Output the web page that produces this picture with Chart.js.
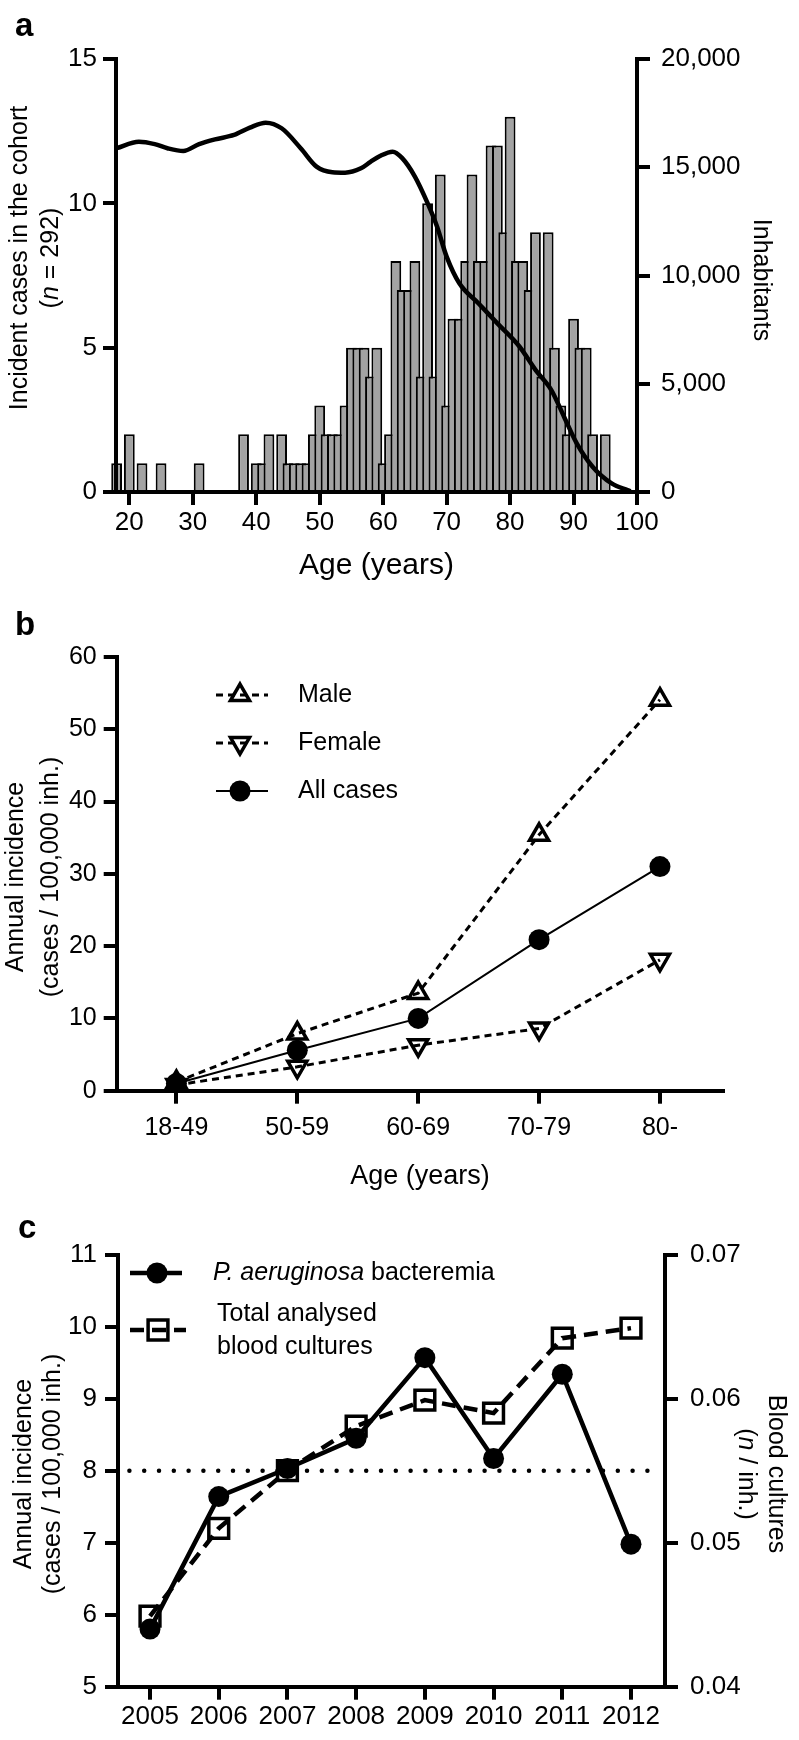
<!DOCTYPE html>
<html>
<head>
<meta charset="utf-8">
<script src="https://cdn.jsdelivr.net/npm/chart.js@4.4.1/dist/chart.umd.min.js"></script>
<style>
html,body{margin:0;padding:0;background:#fff;}
#page{position:relative;width:799px;height:1740px;overflow:hidden;background:#fff;}
canvas{position:absolute;left:0;}
</style>
</head>
<body>
<div id="page">
<canvas id="panelA" width="799" height="600" style="top:0"></canvas>
<canvas id="panelB" width="799" height="600" style="top:600px"></canvas>
<canvas id="panelC" width="799" height="540" style="top:1200px"></canvas>
</div>
<script>
// Panel a: incident cases per year of age (bars) + inhabitants by age (curve)
const CASE_AGES = [18,20,22,25,31,38,40,41,42,44,45,46,47,48,49,50,51,52,53,54,55,56,57,58,59,60,61,62,63,64,65,66,67,68,69,70,71,72,73,74,75,76,77,78,79,80,81,82,83,84,85,86,87,88,89,90,91,92,93,95];
const CASES     = [1,2,1,1,1,2,1,1,2,2,1,1,1,1,2,3,2,2,2,3,5,5,5,4,5,1,2,8,7,7,8,4,10,4,11,3,6,6,8,11,8,8,12,12,9,13,8,8,7,9,4,9,5,3,2,6,5,5,2,2];
const POP_AGES  = [18,21.5,24,26,28.5,31,33.5,36.5,39,41.5,44,47,49.5,52,54,56.5,58,59.5,61.5,63,65,67,68.5,70,72,75,78,81.5,84,86.5,88.5,90.5,93,96,98.5,99];
const POP       = [15880,16180,16070,15880,15750,16070,16290,16490,16830,17060,16800,15880,15030,14770,14750,14950,15250,15520,15720,15420,14570,13340,12250,10870,9640,8720,7790,6710,5640,4710,3480,2250,1170,400,90,40];
const AGE_TICKS = [20,30,40,50,60,70,80,90,100];
const CASE_TICKS = [0,5,10,15];
const POP_TICKS = [0,5000,10000,15000,20000];
const POP_LABELS = ['0','5,000','10,000','15,000','20,000'];

// Panel b: annual incidence by age group
const AGE_GROUPS = ['18-49','50-59','60-69','70-79','80-'];
const MALE   = [1.2, 7.9, 13.5, 35.4, 54.1];
const FEMALE = [0.8, 3.3, 6.3, 8.6, 18.1];
const ALL    = [1.0, 5.6, 10.0, 20.9, 31.0];
const INC_TICKS = [0,10,20,30,40,50,60];

// Panel c: yearly incidence + analysed blood cultures
const YEARS = [2005,2006,2007,2008,2009,2010,2011,2012];
const BACTEREMIA = [5.80, 7.64, 8.03, 8.45, 9.57, 8.17, 9.34, 6.98];
const CULTURES   = [0.0449, 0.0510, 0.0550, 0.0581, 0.0599, 0.0590, 0.0642, 0.0649];
const REF_LEVEL = 8;
const REF_SPAN = [2004.7, 2012.28];
const YC_TICKS = [5,6,7,8,9,10,11];
const BC_TICKS = [0.04,0.05,0.06,0.07];
const BC_LABELS = ['0.04','0.05','0.06','0.07'];

const FONT = '"Liberation Sans", Arial, Helvetica, sans-serif';
Chart.defaults.font.family = FONT;
Chart.defaults.color = '#000';

function ax(c) {
  return {
    type: 'linear', position: c.pos, min: c.min, max: c.max, offset: false,
    afterFit: s => { if (c.pos === 'bottom') s.height = c.thick; else s.width = c.thick; },
    afterBuildTicks: s => { s.ticks = c.values.map(v => ({value: v})); },
    grid: {display: true, offset: false, drawOnChartArea: false, drawTicks: true, tickLength: 13, tickWidth: 4, tickColor: '#000', color: '#000', lineWidth: 4},
    border: {display: true, color: '#000', width: 4, z: 1},
    ticks: {color: '#000', font: {family: FONT, size: c.size}, padding: c.pad, autoSkip: false, maxRotation: 0, minRotation: 0,
            callback: (v, i) => c.labels ? c.labels[i] : String(c.values[i])}
  };
}

function drawRich(ctx, t) {
  const size = t.size, bold = t.bold ? 'bold ' : '';
  const fontOf = it => (it ? 'italic ' : '') + bold + size + 'px ' + FONT;
  ctx.save();
  ctx.translate(t.x, t.y);
  ctx.rotate((t.rot || 0) * Math.PI / 180);
  ctx.textBaseline = t.base || 'middle';
  ctx.textAlign = 'left';
  ctx.fillStyle = '#000';
  let total = 0;
  t.parts.forEach(p => { ctx.font = fontOf(p[1]); total += ctx.measureText(p[0]).width; });
  let cx = t.align === 'left' ? 0 : (t.align === 'right' ? -total : -total / 2);
  t.parts.forEach(p => { ctx.font = fontOf(p[1]); ctx.fillText(p[0], cx, 0); cx += ctx.measureText(p[0]).width; });
  ctx.restore();
}

function textPlugin(items, legend) {
  return {
    id: 'panelText',
    afterDraw(chart) {
      const ctx = chart.ctx;
      (legend || []).forEach(it => {
        const ds = chart.data.datasets[it.ds];
        ctx.save();
        ctx.strokeStyle = ds.borderColor; ctx.lineWidth = ds.borderWidth;
        ctx.setLineDash(ds.borderDash || []);
        ctx.beginPath(); ctx.moveTo(it.x1, it.y); ctx.lineTo(it.x2, it.y); ctx.stroke();
        ctx.setLineDash([]);
        ctx.fillStyle = ds.pointBackgroundColor; ctx.strokeStyle = ds.pointBorderColor; ctx.lineWidth = ds.pointBorderWidth;
        Chart.helpers.drawPoint(ctx, {pointStyle: ds.pointStyle, rotation: ds.pointRotation || 0, radius: ds.pointRadius, borderWidth: ds.pointBorderWidth}, it.mx, it.y);
        ctx.restore();
      });
      items.forEach(t => drawRich(ctx, t));
    }
  };
}

const baseOpts = {responsive: false, animation: false, events: [],
  plugins: {legend: {display: false}, tooltip: {enabled: false}}};

// ---- panel a
new Chart(document.getElementById('panelA'), {
  type: 'bar',
  data: {datasets: [
    {type: 'line', data: POP_AGES.map((a, i) => ({x: a, y: POP[i]})), yAxisID: 'y2',
     borderColor: '#000', borderWidth: 4.5, pointRadius: 0, cubicInterpolationMode: 'monotone', fill: false},
    {type: 'bar', data: CASE_AGES.map((a, i) => ({x: a, y: CASES[i]})), yAxisID: 'y',
     backgroundColor: '#a3a3a3', borderColor: '#000', borderWidth: 2, borderSkipped: 'start',
     categoryPercentage: 1, barPercentage: 1.7, clip: false}
  ]},
  options: Object.assign({}, baseOpts, {
    layout: {padding: {top: 59, left: 0, right: 0, bottom: 0}},
    scales: {
      x: ax({pos: 'bottom', min: 17.9, max: 100, thick: 108, values: AGE_TICKS, size: 26, pad: 2}),
      y: ax({pos: 'left', min: 0, max: 15, thick: 116, values: CASE_TICKS, size: 26, pad: 6}),
      y2: ax({pos: 'right', min: 0, max: 20000, thick: 162, values: POP_TICKS, labels: POP_LABELS, size: 26, pad: 11})
    }
  }),
  plugins: [textPlugin([
    {x: 15, y: 36, parts: [['a', 0]], size: 33, bold: true, align: 'left', base: 'alphabetic'},
    {x: 20, y: 258, rot: -90, parts: [['Incident cases in the cohort', 0]], size: 25},
    {x: 51, y: 258, rot: -90, parts: [['(', 0], ['n', 1], [' = 292)', 0]], size: 25},
    {x: 761, y: 280, rot: 90, parts: [['Inhabitants', 0]], size: 25},
    {x: 376.5, y: 566, parts: [['Age (years)', 0]], size: 30}
  ])]
});

// ---- panel b
new Chart(document.getElementById('panelB'), {
  type: 'line',
  data: {datasets: [
    {label: 'Male', data: MALE.map((v, i) => ({x: i, y: v})), borderColor: '#000', borderWidth: 3, borderDash: [7, 5],
     pointStyle: 'triangle', pointRadius: 11, pointBorderWidth: 3.5, pointBackgroundColor: 'rgba(255,255,255,0)', pointBorderColor: '#000'},
    {label: 'Female', data: FEMALE.map((v, i) => ({x: i, y: v})), borderColor: '#000', borderWidth: 3, borderDash: [7, 5],
     pointStyle: 'triangle', pointRotation: 180, pointRadius: 11, pointBorderWidth: 3.5, pointBackgroundColor: 'rgba(255,255,255,0)', pointBorderColor: '#000'},
    {label: 'All cases', data: ALL.map((v, i) => ({x: i, y: v})), borderColor: '#000', borderWidth: 2,
     pointStyle: 'circle', pointRadius: 10.5, pointBorderWidth: 0, pointBackgroundColor: '#000', pointBorderColor: '#000'}
  ]},
  options: Object.assign({}, baseOpts, {
    layout: {padding: {top: 57, left: 0, right: 75.7, bottom: 0}},
    scales: {
      x: ax({pos: 'bottom', min: -0.494, max: 4.524, thick: 109.3, values: [0, 1, 2, 3, 4], labels: AGE_GROUPS, size: 25, pad: 9}),
      y: ax({pos: 'left', min: 0, max: 60, thick: 116.7, values: INC_TICKS, size: 25, pad: 7})
    }
  }),
  plugins: [textPlugin([
    {x: 15, y: 35, parts: [['b', 0]], size: 33, bold: true, align: 'left', base: 'alphabetic'},
    {x: 16, y: 277, rot: -90, parts: [['Annual incidence', 0]], size: 25},
    {x: 51, y: 277, rot: -90, parts: [['(cases / 100,000 inh.)', 0]], size: 25},
    {x: 420, y: 577, parts: [['Age (years)', 0]], size: 27},
    {x: 298, y: 95, parts: [['Male', 0]], size: 25, align: 'left'},
    {x: 298, y: 143, parts: [['Female', 0]], size: 25, align: 'left'},
    {x: 298, y: 191, parts: [['All cases', 0]], size: 25, align: 'left'}
  ], [
    {ds: 0, y: 95, x1: 216, x2: 268, mx: 240},
    {ds: 1, y: 143, x1: 216, x2: 268, mx: 240},
    {ds: 2, y: 191, x1: 216, x2: 268, mx: 240}
  ])]
});

// ---- panel c
new Chart(document.getElementById('panelC'), {
  type: 'line',
  data: {datasets: [
    {label: 'Total analysed blood cultures', data: CULTURES.map((v, i) => ({x: YEARS[i], y: v})), yAxisID: 'y2',
     borderColor: '#000', borderWidth: 4.5, borderDash: [14, 8],
     pointStyle: 'rect', pointRadius: 14, pointBorderWidth: 3.5, pointBackgroundColor: 'rgba(255,255,255,0)', pointBorderColor: '#000'},
    {label: 'P. aeruginosa bacteremia', data: BACTEREMIA.map((v, i) => ({x: YEARS[i], y: v})), yAxisID: 'y',
     borderColor: '#000', borderWidth: 4.5,
     pointStyle: 'circle', pointRadius: 10.5, pointBorderWidth: 0, pointBackgroundColor: '#000', pointBorderColor: '#000'},
    {label: 'reference', data: REF_SPAN.map(x => ({x: x, y: REF_LEVEL})), yAxisID: 'y',
     borderColor: '#000', borderWidth: 4.5, borderDash: [0, 14.8], borderCapStyle: 'round', pointRadius: 0}
  ]},
  options: Object.assign({}, baseOpts, {
    layout: {padding: {top: 54.7, left: 0, right: 0, bottom: 0}},
    scales: {
      x: ax({pos: 'bottom', min: 2004.534, max: 2012.495, thick: 53.3, values: YEARS, size: 26, pad: 2}),
      y: ax({pos: 'left', min: 5, max: 11, thick: 118, values: YC_TICKS, size: 26, pad: 8}),
      y2: ax({pos: 'right', min: 0.04, max: 0.07, thick: 134, values: BC_TICKS, labels: BC_LABELS, size: 26, pad: 12})
    }
  }),
  plugins: [textPlugin([
    {x: 18, y: 38, parts: [['c', 0]], size: 33, bold: true, align: 'left', base: 'alphabetic'},
    {x: 24, y: 274, rot: -90, parts: [['Annual incidence', 0]], size: 25},
    {x: 53, y: 274, rot: -90, parts: [['(cases / 100,000 inh.)', 0]], size: 25},
    {x: 776, y: 274, rot: 90, parts: [['Blood cultures', 0]], size: 25},
    {x: 746, y: 274, rot: 90, parts: [['(', 0], ['n', 1], [' / inh.)', 0]], size: 25},
    {x: 213, y: 73, parts: [['P. aeruginosa', 1], [' bacteremia', 0]], size: 25, align: 'left'},
    {x: 217, y: 114, parts: [['Total analysed', 0]], size: 25, align: 'left'},
    {x: 217, y: 147, parts: [['blood cultures', 0]], size: 25, align: 'left'}
  ], [
    {ds: 1, y: 73, x1: 130, x2: 182, mx: 157},
    {ds: 0, y: 130, x1: 130, x2: 186, mx: 158}
  ])]
});
</script>
</body>
</html>
